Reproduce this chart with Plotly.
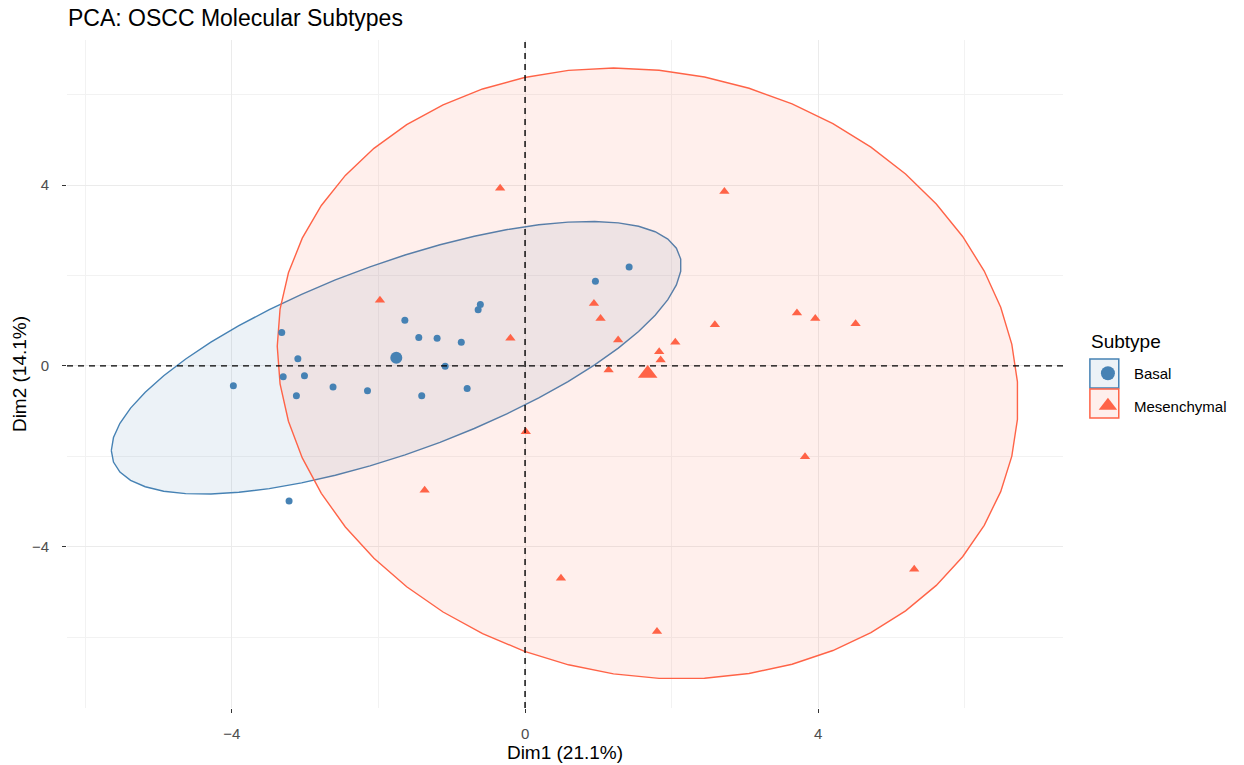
import numpy as np
import plotly.graph_objects as go

# ---- data ----
basal_x = [-3.32, -3.10, -3.30, -3.01, -3.12, -3.98, -2.62, -2.15, -1.64, -1.45,
           -1.20, -0.87, -1.09, -1.41, -0.79, -0.61, -0.64, -3.22, 0.96, 1.42]
basal_y = [0.74, 0.16, -0.24, -0.22, -0.66, -0.44, -0.47, -0.55, 1.01, 0.63,
           0.61, 0.52, -0.01, -0.66, -0.50, 1.36, 1.24, -2.99, 1.87, 2.19]

mes_x = [-0.34, -1.98, -0.20, 0.01, -1.37, 2.72, 0.94, 1.03, 1.27, 1.83, 1.85,
         2.05, 2.59, 3.71, 3.96, 4.51, 1.14, 3.82, 0.49, 1.80, 5.31]
mes_y = [3.93, 1.45, 0.61, -1.46, -2.75, 3.86, 1.38, 1.05, 0.57, 0.31, 0.13,
         0.52, 0.91, 1.17, 1.05, 0.93, -0.09, -2.01, -4.70, -5.88, -4.50]

groups = ["Basal", "Mesenchymal"]
colors = {"Basal": "#4682B4", "Mesenchymal": "#FF6347"}
fills = {"Basal": "rgba(70,130,180,0.1)", "Mesenchymal": "rgba(255,99,71,0.1)"}
symbols = {"Basal": "circle", "Mesenchymal": "triangle-up"}
data = {"Basal": (basal_x, basal_y), "Mesenchymal": (mes_x, mes_y)}

x_title = "Dim1 (21.1%)"
y_title = "Dim2 (14.1%)"
title = "PCA: OSCC Molecular Subtypes"
legend_title = "Subtype"

FONT = "Liberation Sans, Arial, sans-serif"


def norm_ellipse(x, y, level=0.95, segments=51):
    x = np.asarray(x, float)
    y = np.asarray(y, float)
    n = len(x)
    dfn, dfd = 2, n - 1
    qf = (dfd / 2.0) * ((1 - level) ** (-2.0 / dfd) - 1)
    radius = np.sqrt(dfn * qf)
    cov = np.cov(x, y)
    L = np.linalg.cholesky(cov)
    ang = np.linspace(-np.pi, np.pi, segments + 1)
    circ = np.column_stack([np.cos(ang), np.sin(ang)])
    pts = circ @ L.T * radius + np.array([x.mean(), y.mean()])
    return pts[:, 0], pts[:, 1]


fig = go.Figure()

# ellipses
for g in groups:
    ex, ey = norm_ellipse(*data[g])
    fig.add_trace(go.Scatter(x=ex, y=ey, mode="lines", fill="toself",
                             fillcolor=fills[g],
                             line=dict(color=colors[g], width=1.4),
                             showlegend=False, hoverinfo="skip"))

# points
for g in groups:
    gx, gy = data[g]
    fig.add_trace(go.Scatter(x=gx, y=gy, mode="markers", name=g, legendgroup=g,
                             marker=dict(symbol=symbols[g], color=colors[g],
                                         size=7 if g == "Basal" else 9),
                             showlegend=False))
# group means
for g in groups:
    gx, gy = data[g]
    fig.add_trace(go.Scatter(x=[np.mean(gx)], y=[np.mean(gy)], mode="markers",
                             legendgroup=g,
                             marker=dict(symbol=symbols[g], color=colors[g],
                                         size=12 if g == "Basal" else 17),
                             showlegend=False, hoverinfo="skip"))
# legend entries (larger key symbols, no data drawn)
for g in groups:
    fig.add_trace(go.Scatter(x=[None], y=[None], mode="markers", name=g,
                             legendgroup=g,
                             marker=dict(symbol=symbols[g], color=colors[g],
                                         size=14 if g == "Basal" else 16),
                             showlegend=True))

# dashed reference lines
fig.add_shape(type="line", xref="x", yref="paper", x0=0, x1=0, y0=0, y1=1,
              line=dict(color="black", width=1.4, dash="6px,5px"))
fig.add_shape(type="line", xref="paper", yref="y", x0=0, x1=1, y0=0, y1=0,
              line=dict(color="black", width=1.4, dash="6px,5px"))


# pixel -> paper helpers (panel: x 67..1067 px, y 40..708 px)
def px2paper_x(p):
    return (p - 67) / 1000.0


def px2paper_y(p):
    return (708 - p) / 668.0


# legend key boxes
for g, (top, bot) in zip(groups, [(359, 388), (389, 418)]):
    fig.add_shape(type="rect", xref="paper", yref="paper",
                  x0=px2paper_x(1094), x1=px2paper_x(1123),
                  y0=px2paper_y(bot), y1=px2paper_y(top),
                  line=dict(color=colors[g], width=1.5), fillcolor=fills[g],
                  layer="above")

fig.add_annotation(text=legend_title, xref="paper", yref="paper",
                   x=px2paper_x(1093), y=px2paper_y(341), xanchor="left",
                   yanchor="middle", showarrow=False,
                   font=dict(family=FONT, size=19, color="black"))

axis_common = dict(
    showgrid=True, gridcolor="#EBEBEB", gridwidth=1.2,
    zeroline=False, showline=False, automargin=False,
    ticks="outside", ticklen=4, tickcolor="#333333", tickwidth=1.2,
    tickfont=dict(family=FONT, size=15, color="#4D4D4D"),
    dtick=4, tick0=0,
    minor=dict(dtick=2, tick0=0, showgrid=True, gridcolor="#F2F2F2", gridwidth=0.8, ticks=""),
    title_font=dict(family=FONT, size=19, color="black"),
)

fig.update_layout(
    width=1244, height=765,
    margin=dict(l=67, r=177, t=40, b=57),
    paper_bgcolor="white", plot_bgcolor="white",
    font=dict(family=FONT),
    title=dict(text=title, x=68 / 1244, xref="container", xanchor="left",
               y=1 - 18 / 765, yref="container", yanchor="middle",
               font=dict(size=23, color="black")),
    xaxis=dict(range=[-6.25, 7.34], title=dict(text=x_title, standoff=4),
               ticklabelstandoff=8, **axis_common),
    yaxis=dict(range=[-7.57, 7.21], title=dict(text=y_title, standoff=0),
               ticklabelstandoff=10, **axis_common),
    legend=dict(x=px2paper_x(1086), y=px2paper_y(357), xanchor="left", yanchor="top",
                bgcolor="rgba(0,0,0,0)", itemwidth=42,
                font=dict(size=15, color="black"),
                tracegroupgap=10),
)

fig.write_html("out.html", config={"displayModeBar": False},
               post_script="document.body.style.margin='0';")
